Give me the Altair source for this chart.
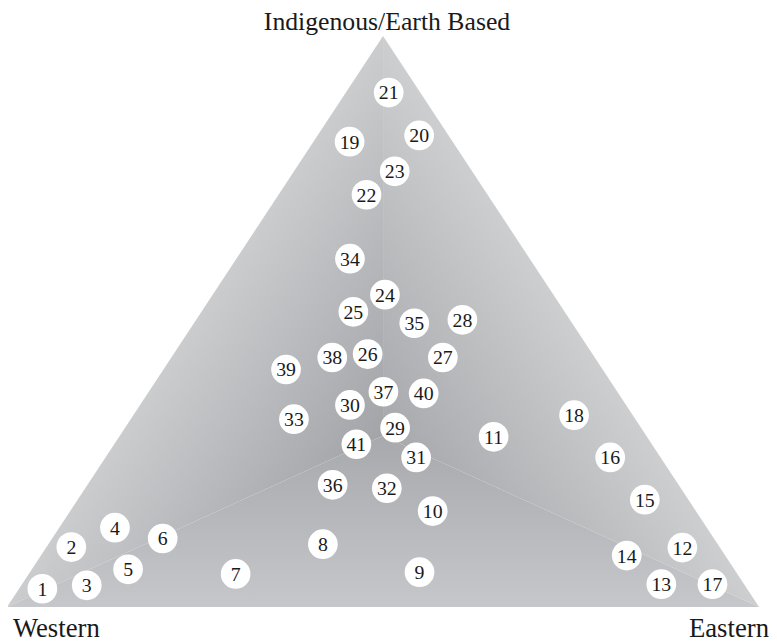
import altair as alt
import pandas as pd

# Ternary shares (percent) for each numbered item
labels = [str(i) for i in range(1, 42)]
western = [93.7, 86.2, 87.5, 78.7, 80.6, 73.3, 66.7, 52.5, 42.1, 35.0,
           20.4, 5.0, 11.0, 13.1, 5.8, 6.7, 4.2, 7.8, 13.7, 3.9,
           4.2, 16.1, 10.3, 22.4, 28.1, 29.9, 20.2, 14.3, 32.7, 36.7,
           32.5, 39.1, 45.4, 23.9, 21.0, 46.0, 31.1, 34.9, 42.1, 25.9, 39.3]
eastern = [3.1, 3.3, 8.7, 7.4, 12.8, 14.7, 27.5, 36.5, 51.8, 48.2,
           49.8, 84.6, 85.0, 77.9, 75.4, 67.1, 91.8, 58.6, 4.8, 13.5,
           5.7, 11.7, 13.4, 22.9, 20.2, 25.8, 36.1, 35.4, 35.9, 27.9,
           41.3, 40.1, 21.7, 15.1, 29.3, 32.6, 31.2, 21.4, 16.3, 36.7, 32.2]
indigenous = [3.2, 10.5, 3.8, 13.9, 6.6, 12.0, 5.8, 11.0, 6.1, 16.8,
              29.8, 10.4, 4.0, 9.0, 18.8, 26.2, 4.0, 33.6, 81.5, 82.6,
              90.1, 72.2, 76.3, 54.7, 51.7, 44.3, 43.7, 50.3, 31.4, 35.4,
              26.2, 20.8, 32.9, 61.0, 49.7, 21.4, 37.7, 43.7, 41.6, 37.4, 28.5]

corner_names = ["Western", "Eastern", "Indigenous/Earth Based"]

pts = pd.DataFrame({"label": labels, "W": western, "E": eastern, "I": indigenous})

xs = alt.Scale(domain=[0.1316, 101.316], nice=False, zero=False)
ys = alt.Scale(domain=[-5.90, 104.33], nice=False, zero=False)
X = lambda f: alt.X(f, type="quantitative", scale=xs, axis=None)
Y = lambda f: alt.Y(f, type="quantitative", scale=ys, axis=None)

cx, cy = 50, 30  # ridge meeting point of the pyramid shading

def grad(c0, c1, x1, y1, x2, y2):
    return {"gradient": "linear", "x1": x1, "y1": y1, "x2": x2, "y2": y2,
            "stops": [{"offset": 0, "color": c0}, {"offset": 1, "color": c1}]}

left = pd.DataFrame({"x": [0, cx], "y": [0, 100], "y2": [0, cy]})
right = pd.DataFrame({"x": [cx, 100], "y": [100, 0], "y2": [cy, 0]})
bottom = pd.DataFrame({"x": [0, cx, 100], "y": [0, cy, 0], "y2": [0, 0, 0]})

area_left = alt.Chart(left).mark_area(
    orient="vertical", color=grad("#cbccce", "#a3a4a8", 0.5, 0.5, 0.85, 0.85)
).encode(x=X("x"), y=Y("y"), y2="y2")
area_right = alt.Chart(right).mark_area(
    orient="vertical", color=grad("#cdcecf", "#a7a8ac", 0.5, 0.5, 0.15, 0.85)
).encode(x=X("x"), y=Y("y"), y2="y2")
area_bottom = alt.Chart(bottom).mark_area(
    orient="vertical", color=grad("#c6c7ca", "#a8a9ad", 0.5, 1, 0.5, 0)
).encode(x=X("x"), y=Y("y"), y2="y2")

base = alt.Chart(pts).transform_calculate(
    px="datum.E + datum.I / 2", py="datum.I"
)
circles = base.mark_circle(size=900, color="white", opacity=1).encode(
    x=X("px"), y=Y("py")
)
nums = base.mark_text(font="Liberation Serif", fontSize=20, color="#1a1a1a",
                      baseline="middle", align="center", dy=1).encode(
    x=X("px"), y=Y("py"), text="label:N"
)

corners = pd.DataFrame({"name": corner_names, "x": [0, 100, 50], "y": [0, 0, 100]})
t_w = alt.Chart(corners.iloc[[0]]).mark_text(
    font="Liberation Serif", fontSize=27, align="left", baseline="alphabetic",
    dx=6, dy=30, color="#1a1a1a").encode(x=X("x"), y=Y("y"), text="name:N")
t_e = alt.Chart(corners.iloc[[1]]).mark_text(
    font="Liberation Serif", fontSize=27, align="right", baseline="alphabetic",
    dx=10, dy=30, color="#1a1a1a").encode(x=X("x"), y=Y("y"), text="name:N")
t_i = alt.Chart(corners.iloc[[2]]).mark_text(
    font="Liberation Serif", fontSize=26, align="center", baseline="alphabetic",
    dx=4, dy=-6, color="#1a1a1a").encode(x=X("x"), y=Y("y"), text="name:N")

chart = alt.layer(area_left, area_right, area_bottom, circles, nums, t_w, t_e, t_i).properties(
    width=769, height=636, padding=0, autosize=alt.AutoSizeParams(type="none")
).configure_view(strokeWidth=0)

chart.save("out.html", embed_options={"renderer": "svg", "actions": False})
